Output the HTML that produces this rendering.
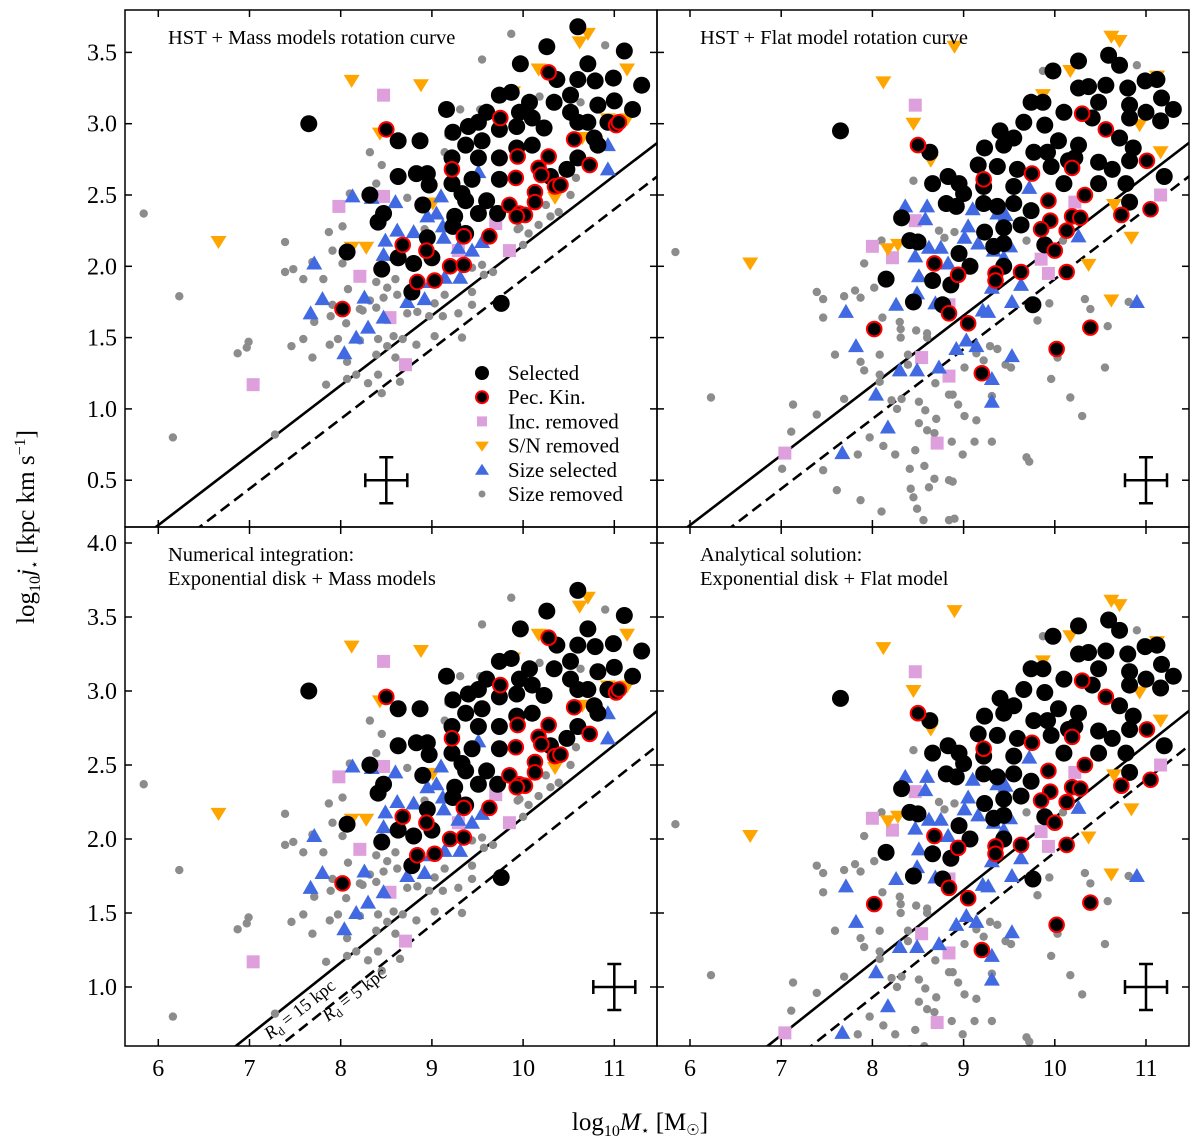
<!DOCTYPE html>
<html><head><meta charset="utf-8"><style>
html,body{margin:0;padding:0;background:#fff}
svg{display:block;font-family:"Liberation Serif",serif}
</style></head><body>
<svg id="chart" width="1200" height="1145" viewBox="0 0 1200 1145" xmlns="http://www.w3.org/2000/svg"></svg>
<script>
// ---- data (log10 M*, log10 j*) ----
const selectedA=[[7.65,3.0],[10.6,3.68],[10.26,3.54],[11.11,3.51],[9.97,3.42],[10.71,3.42],[10.6,3.31],[10.79,3.3],[10.99,3.32],[11.3,3.27],[10.37,3.31],[9.74,3.2],[9.87,3.22],[10.07,3.15],[10.34,3.15],[10.52,3.2],[10.82,3.13],[11,3.16],[11.2,3.1],[9.16,3.1],[9.6,3.08],[10.1,3.04],[10.52,3.08],[10.6,3.01],[10.71,3.01],[10.93,3.01],[9.4,2.98],[9.51,3.01],[9.23,2.94],[9.74,2.96],[9.93,2.98],[10.23,2.97],[8.63,2.88],[8.87,2.88],[9.37,2.85],[10.1,2.85],[10.82,2.85],[9.22,2.76],[9.51,2.76],[9.74,2.76],[10.6,2.76],[10.78,2.9],[8.63,2.63],[8.83,2.65],[8.95,2.65],[8.97,2.57],[9.22,2.58],[9.44,2.61],[9.74,2.61],[10.48,2.68],[10.3,2.63],[8.32,2.5],[9.37,2.46],[9.6,2.46],[9.33,2.51],[8.9,2.43],[8.47,2.37],[8.41,2.31],[9.25,2.35],[9.51,2.37],[9.72,2.37],[9.23,2.28],[9.37,2.23],[8.95,2.2],[8.07,2.1],[8.63,2.06],[8.8,2.02],[9,2.06],[8.45,1.98],[8.78,1.82],[9.76,1.74],[9.93,2.83],[9.55,2.88],[9.96,3.08]];
const pecA=[[8.5,2.96],[9.75,3.04],[10.28,3.36],[11.02,2.99],[11.05,3.01],[10.56,2.89],[10.73,2.71],[9.22,2.68],[9.94,2.77],[10.28,2.77],[10.17,2.69],[9.92,2.62],[10.2,2.64],[10.35,2.56],[10.41,2.57],[10.13,2.52],[9.85,2.43],[10.13,2.45],[9.96,2.37],[10.02,2.36],[9.93,2.35],[9.35,2.21],[9.63,2.21],[8.68,2.15],[8.94,2.11],[9.2,2.0],[9.35,2.01],[8.84,1.89],[9.03,1.9],[8.02,1.7]];
const incA=[[8.47,3.2],[8.47,2.49],[7.98,2.42],[8.21,1.93],[9.85,2.11],[8.54,1.64],[8.71,1.31],[7.04,1.17],[9.29,2.11],[9.7,2.3]];
const snA=[[8.12,3.3],[8.88,3.27],[10.62,3.57],[10.71,3.63],[11.14,3.38],[10.17,3.38],[8.43,2.93],[6.66,2.17],[8.12,2.13],[8.28,2.13],[9.01,2.44],[10.35,2.48],[10.93,3.03],[10.65,2.9],[11.14,3.03],[9.89,3.22]];
const sizeSelA=[[8.13,2.49],[8.6,2.45],[8.34,2.48],[9.05,2.37],[9.1,2.49],[8.95,2.35],[9.12,2.28],[8.8,2.24],[8.62,2.25],[8.49,2.18],[8.47,2.08],[9.13,2.2],[7.71,2.02],[9.29,2.13],[9.55,2.17],[9.44,2.11],[8.99,1.89],[9.14,1.92],[9.31,1.92],[7.8,1.77],[7.67,1.67],[8.26,1.78],[8.73,1.75],[8.92,1.77],[8.47,1.64],[8.3,1.57],[8.17,1.5],[8.04,1.39],[10.93,2.85],[10.93,2.68],[9.51,2.66]];
const sizeRemA=[[5.84,2.37],[6.23,1.79],[6.16,0.8],[9.87,3.63],[9.55,3.45],[10.9,3.55],[9.31,3.1],[9.53,3.1],[8.32,2.8],[8.45,2.71],[9.14,2.8],[9.18,2.92],[8.1,2.51],[8.73,2.48],[10.63,3.15],[10.18,3.19],[10.58,2.62],[10.52,2.5],[10.39,2.38],[10.3,2.35],[10.17,2.29],[10.06,2.23],[9.94,2.26],[7.87,2.24],[8.02,2.28],[7.39,2.17],[7.91,2.11],[8.02,2.02],[7.69,2.03],[7.39,1.96],[7.48,1.98],[7.59,1.91],[7.81,1.91],[8.08,1.84],[8.39,1.89],[8.51,1.85],[8.6,1.91],[8.62,1.8],[8.47,1.78],[8.32,1.76],[8.21,1.7],[7.91,1.73],[7.71,1.61],[7.89,1.65],[8.06,1.6],[8.24,1.69],[8.39,1.71],[8.73,1.67],[8.84,1.68],[8.97,1.65],[9.12,1.65],[9.29,1.67],[9.03,1.74],[9.14,1.8],[9.44,1.82],[9.57,1.94],[9.55,2.01],[9.67,1.96],[9.44,1.73],[9.33,1.5],[9.03,1.51],[8.83,1.45],[8.68,1.49],[8.58,1.51],[8.51,1.44],[8.41,1.49],[8.39,1.38],[8.6,1.36],[8.21,1.48],[7.97,1.49],[7.88,1.45],[7.59,1.49],[7.46,1.44],[7.69,1.36],[8.07,1.33],[6.99,1.47],[6.97,1.43],[6.87,1.39],[8.07,1.21],[8.17,1.24],[7.84,1.17],[8.3,1.18],[8.41,1.24],[8.65,1.19],[8.45,1.11],[7.28,0.82],[9.44,1.99],[10.1,2.44],[10.25,2.43],[9.96,2.27],[10,2.15],[8.92,2.26],[8.39,2.58]];

const selectedB=[[7.65,2.95],[9.98,3.37],[10.26,3.44],[10.59,3.48],[10.71,3.41],[10.26,3.25],[10.37,3.26],[10.56,3.27],[10.8,3.25],[10.99,3.3],[11.12,3.31],[11.17,3.18],[11.3,3.1],[11.16,3.02],[10.82,3.13],[9.74,3.15],[9.87,3.15],[10.1,3.08],[10.48,3.15],[10.41,3.04],[10.82,3.04],[11,3.08],[9.4,2.95],[9.66,3.01],[9.89,2.99],[9.55,2.9],[10.04,2.88],[10.26,2.85],[10.71,2.9],[10.86,2.83],[9.23,2.83],[9.44,2.85],[9.77,2.8],[10.22,2.76],[10.48,2.73],[10.63,2.68],[10.82,2.74],[9.16,2.71],[9.37,2.7],[9.59,2.68],[9.96,2.7],[11.2,2.63],[8.63,2.8],[8.66,2.58],[8.83,2.63],[8.95,2.58],[9,2.51],[9.22,2.56],[9.55,2.56],[10.1,2.58],[10.48,2.58],[10.78,2.58],[8.81,2.44],[8.92,2.42],[9.22,2.44],[9.37,2.42],[9.55,2.44],[9.74,2.39],[10.82,2.45],[8.32,2.34],[9.44,2.27],[9.63,2.29],[9.23,2.24],[9.44,2.16],[8.41,2.18],[8.5,2.17],[9.33,2.14],[9.89,2.15],[8.95,2.09],[9.07,2],[9.44,2],[8.15,1.91],[8.66,1.9],[8.86,1.87],[8.45,1.75],[8.77,1.73],[9.76,1.73],[10.15,2.74],[9.92,2.8]];
const pecB=[[8.5,2.85],[10.3,3.07],[10.56,2.96],[11.01,2.74],[9.75,2.65],[10.19,2.69],[9.22,2.61],[10.33,2.5],[9.93,2.46],[11.05,2.4],[10.73,2.36],[10.19,2.35],[10.28,2.34],[9.95,2.32],[9.85,2.26],[10.13,2.25],[10,2.11],[8.68,2.02],[8.94,1.94],[9.35,1.95],[9.35,1.9],[9.63,1.96],[10.13,1.96],[8.84,1.67],[9.05,1.6],[8.02,1.56],[10.39,1.57],[10.02,1.42],[9.2,1.25]];
const incB=[[8.47,3.13],[8.0,2.14],[8.22,2.06],[8.47,2.32],[9.85,2.05],[9.93,1.95],[10.22,2.45],[11.16,2.5],[8.54,1.36],[8.84,1.23],[8.71,0.76],[7.04,0.69],[8.84,1.73]];
const snB=[[8.9,3.54],[8.12,3.29],[8.45,3.0],[10.62,3.61],[10.71,3.58],[10.17,3.37],[11.12,3.33],[11.16,2.8],[10.93,2.99],[6.66,2.02],[8.17,2.12],[8.28,2.15],[10.65,2.43],[10.84,2.2],[10.37,2.01],[10.62,1.76],[8.64,2.74],[9.87,3.2]];
const sizeSelB=[[8.36,2.42],[8.6,2.42],[8.58,2.33],[9.1,2.4],[9.05,2.28],[9.37,2.37],[9.46,2.36],[9.72,2.55],[9.01,2.2],[9.16,2.16],[9.33,2.11],[9.51,2.14],[9.44,2.06],[8.47,2.07],[8.62,2.13],[8.75,2.13],[8.83,2.02],[8.51,1.93],[8.49,1.81],[9.31,1.85],[9.63,1.87],[8.26,1.73],[8.69,1.74],[9.21,1.69],[9.27,1.68],[9.53,1.75],[10.26,2.21],[10.9,1.75],[7.71,1.68],[7.82,1.44],[8.92,1.42],[9.03,1.48],[9.14,1.44],[9.53,1.37],[8.3,1.27],[8.49,1.27],[8.73,1.29],[8.04,1.1],[8.17,0.87],[7.67,0.69],[9.31,1.21],[9.31,1.05]];
const sizeRemB=[[5.84,2.1],[6.23,1.08],[9.87,3.37],[10.9,3.41],[8.45,2.6],[9.18,2.82],[8.1,2.18],[7.91,2.02],[7.39,1.82],[7.46,1.77],[7.46,1.64],[7.69,1.79],[7.81,1.83],[7.87,1.78],[8.02,1.85],[8.11,1.64],[8.3,1.61],[8.31,1.56],[8.31,1.5],[8.48,1.55],[8.6,1.53],[8.6,1.5],[8.73,2.25],[8.79,2.2],[8.9,2.24],[9.69,2.18],[10.09,2.18],[10.33,1.77],[10.39,1.7],[10.58,1.58],[10.81,1.75],[9.94,1.74],[9.81,1.62],[10.03,1.36],[9.96,1.21],[10.17,1.08],[10.3,0.95],[10.55,1.29],[9.72,0.63],[7.59,1.38],[7.87,1.33],[7.91,1.27],[8.08,1.38],[8.08,1.24],[8.08,1.19],[7.69,1.07],[7.39,0.96],[7.13,1.03],[7.11,0.84],[7.01,0.58],[7.46,0.57],[7.61,0.43],[7.87,0.36],[8.1,0.28],[7.84,0.68],[7.97,0.8],[8.12,0.74],[8.25,0.68],[8.21,1.06],[8.27,1.0],[8.32,1.07],[8.39,1.38],[8.39,1.31],[8.51,1.05],[8.58,0.99],[8.51,0.9],[8.6,0.85],[8.47,0.71],[8.7,0.93],[8.68,0.83],[8.87,0.77],[8.41,0.58],[8.57,0.6],[8.68,0.51],[8.62,0.45],[8.42,0.44],[8.45,0.38],[8.88,0.49],[8.84,0.5],[8.49,0.3],[8.56,0.22],[8.84,0.22],[8.9,0.23],[8.88,1.1],[8.94,1.03],[9.01,0.95],[9.14,0.92],[9.12,0.77],[9.31,0.77],[8.99,0.68],[9.31,1.09],[9.22,1.34],[9.46,1.31],[9.52,1.29],[9.37,1.42],[9.29,1.44],[9.14,1.39],[8.84,1.1],[8.69,1.18],[9.01,1.29],[9.69,0.66]];

const xTicks=[6,7,8,9,10,11];
const yTicksTop=[0.5,1.0,1.5,2.0,2.5,3.0,3.5];
const yTicksBottom=[1.0,1.5,2.0,2.5,3.0,3.5,4.0];
const lineIntercepts=[2.865,2.63]; // j at M=11.47 for Rd=15 kpc (solid) and Rd=5 kpc (dashed)
const lineSlope=0.49;

const NS="http://www.w3.org/2000/svg";
const svg=document.getElementById('chart');
function mk(tag,attrs,parent){const e=document.createElementNS(NS,tag);for(const k in attrs)e.setAttribute(k,attrs[k]);(parent||svg).appendChild(e);return e;}

const panels=[
 {id:'top-left',x0:125,x1:657,y0:10,y1:527,xo:158.3,yo:52.4,yref:3.5,ys:142.6,ticks:yTicksTop,title:['HST + Mass models rotation curve'],set:'A',legend:true,err:[8.5,0.5],ylabels:true,xlabels:false},
 {id:'top-right',x0:657,x1:1189,y0:10,y1:527,xo:690,yo:52.4,yref:3.5,ys:142.6,ticks:yTicksTop,title:['HST + Flat model rotation curve'],set:'B',err:[11,0.5],ylabels:false,xlabels:false},
 {id:'bottom-left',x0:125,x1:657,y0:527,y1:1046,xo:158.3,yo:543,yref:4.0,ys:148,ticks:yTicksBottom,title:['Numerical integration:','Exponential disk + Mass models'],set:'A',err:[11,1.0],ylabels:true,xlabels:true,rd:true},
 {id:'bottom-right',x0:657,x1:1189,y0:527,y1:1046,xo:690,yo:543,yref:4.0,ys:148,ticks:yTicksBottom,title:['Analytical solution:','Exponential disk + Flat model'],set:'B',err:[11,1.0],ylabels:false,xlabels:true}
];
const sets={A:{sel:selectedA,pec:pecA,inc:incA,sn:snA,ss:sizeSelA,sr:sizeRemA},B:{sel:selectedB,pec:pecB,inc:incB,sn:snB,ss:sizeSelB,sr:sizeRemB}};

function drawMarker(g,type,x,y){
 let e;
 if(type==='sr'){e=mk('circle',{cx:x,cy:y,r:4.2,fill:'#8c8c8c'},g);}
 else if(type==='inc'){e=mk('rect',{x:x-6.5,y:y-6.5,width:13,height:13,fill:'#dda0dd'},g);}
 else if(type==='sn'){e=mk('path',{d:`M${x-8},${y-6} L${x+8},${y-6} L${x},${y+7} Z`,fill:'#ffa500'},g);}
 else if(type==='ss'){e=mk('path',{d:`M${x-8},${y+6} L${x+8},${y+6} L${x},${y-8} Z`,fill:'#4169e1'},g);}
 else if(type==='sel'){e=mk('circle',{cx:x,cy:y,r:8.5,fill:'#000'},g);}
 else {e=mk('circle',{cx:x,cy:y,r:7.3,fill:'#000',stroke:'#ff0000','stroke-width':2},g);}
 return e;
}
const names={sr:'size-removed-point',inc:'inc-removed-point',sn:'sn-removed-point',ss:'size-selected-point',sel:'selected-point',pec:'pec-kin-point'};

panels.forEach((p,pi)=>{
 const X=m=>p.xo+(m-6)*91.2, Y=j=>p.yo+(p.yref-j)*p.ys;
 const cp=mk('clipPath',{id:'clip'+pi});
 mk('rect',{x:p.x0,y:p.y0,width:p.x1-p.x0,height:p.y1-p.y0},cp);
 const g=mk('g',{'clip-path':`url(#clip${pi})`});
 
 
 lineIntercepts.forEach((b,li)=>{
  const m1=5.5,m2=11.6;
  const l=mk('line',{x1:X(m1),y1:Y(b+lineSlope*(m1-11.47)),x2:X(m2),y2:Y(b+lineSlope*(m2-11.47)),stroke:'#000','stroke-width':2.6,'stroke-dasharray':li?'11,6':'none'},g);
  
  
 });
 const s=sets[p.set];
 ['sr','inc','sn','ss','sel','pec'].forEach(t=>{
  s[t].forEach(d=>{
   const e=drawMarker(g,t,X(d[0]),Y(d[1]));
   
   
  });
 });
 const ex=X(p.err[0]),ey=Y(p.err[1]);
 const eg=mk('g',{stroke:'#000','stroke-width':2.5,fill:'none'});
 
 
 mk('path',{d:`M${ex-21},${ey} H${ex+21} M${ex-21},${ey-7} V${ey+7} M${ex+21},${ey-7} V${ey+7} M${ex},${ey-23} V${ey+23} M${ex-7},${ey-23} H${ex+7} M${ex-7},${ey+23} H${ex+7}`},eg);
 const fr=mk('rect',{x:p.x0,y:p.y0,width:p.x1-p.x0,height:p.y1-p.y0,fill:'none',stroke:'#000','stroke-width':1.5});
 
 
 xTicks.forEach(v=>{
  const x=X(v);
  mk('line',{x1:x,y1:p.y0,x2:x,y2:p.y0+7,stroke:'#000','stroke-width':1.5});
  mk('line',{x1:x,y1:p.y1,x2:x,y2:p.y1-7,stroke:'#000','stroke-width':1.5});
  if(p.xlabels){const t=mk('text',{x:x,y:1076,'font-size':24,'text-anchor':'middle'});t.textContent=v;
   }
 });
 p.ticks.forEach(v=>{
  const y=Y(v);
  mk('line',{x1:p.x0,y1:y,x2:p.x0+7,y2:y,stroke:'#000','stroke-width':1.5});
  mk('line',{x1:p.x1,y1:y,x2:p.x1-7,y2:y,stroke:'#000','stroke-width':1.5});
  if(p.ylabels){const t=mk('text',{x:117,y:y+8,'font-size':24,'text-anchor':'end'});t.textContent=v.toFixed(1);
   }
 });
 p.title.forEach((tt,i)=>{
  const t=mk('text',{x:p.x0+43,y:p.y0+34+i*24,'font-size':20.5});t.textContent=tt;
  
 });
 if(p.rd){
  const t1=mk('text',{x:270,y:1040,'font-size':18,transform:'rotate(-38 270 1040)'});
  t1.innerHTML='<tspan font-style="italic">R</tspan><tspan font-size="12" dy="4">d</tspan><tspan dy="-4"> = 15 kpc</tspan>';
  
  const t2=mk('text',{x:328,y:1022,'font-size':18,transform:'rotate(-38 328 1022)'});
  t2.innerHTML='<tspan font-style="italic">R</tspan><tspan font-size="12" dy="4">d</tspan><tspan dy="-4"> = 5 kpc</tspan>';
  
 }
 if(p.legend){
  const lg=mk('g',{});
  
  
  const items=[['sel','Selected'],['pec','Pec. Kin.'],['inc','Inc. removed'],['sn','S/N removed'],['ss','Size selected'],['sr','Size removed']];
  items.forEach((it,i)=>{
   const y=373+i*24.2;
   const e=it[0]==='inc'?mk('rect',{x:477,y:y-5,width:10,height:10,fill:'#dda0dd'},lg):
     it[0]==='sn'?mk('path',{d:`M475,${y-4} L489,${y-4} L482,${y+6} Z`,fill:'#ffa500'},lg):
     it[0]==='ss'?mk('path',{d:`M475,${y+5} L489,${y+5} L482,${y-6} Z`,fill:'#4169e1'},lg):
     it[0]==='sr'?mk('circle',{cx:482,cy:y,r:3.5,fill:'#8c8c8c'},lg):
     it[0]==='sel'?mk('circle',{cx:482,cy:y,r:7,fill:'#000'},lg):
     mk('circle',{cx:482,cy:y,r:6,fill:'#000',stroke:'#f00','stroke-width':2},lg);
   
   
   const t=mk('text',{x:508,y:y+7,'font-size':21},lg);t.textContent=it[1];
   
   
  });
 }
});
const xt=mk('text',{x:640,y:1130,'font-size':25,'text-anchor':'middle'});
xt.innerHTML='log<tspan font-size="16" dy="6">10</tspan><tspan dy="-6" font-style="italic">M</tspan><tspan font-size="14" dy="5">⋆</tspan><tspan dy="-5"> [M</tspan><tspan font-size="15" dy="5">☉</tspan><tspan dy="-5">]</tspan>';


const yt=mk('text',{x:0,y:0,'font-size':25,'text-anchor':'middle',transform:'translate(34 527) rotate(-90)'});
yt.innerHTML='log<tspan font-size="16" dy="6">10</tspan><tspan dy="-6" font-style="italic">j</tspan><tspan font-size="14" dy="5">⋆</tspan><tspan dy="-5"> [kpc km s</tspan><tspan font-size="16" dy="-9">−1</tspan><tspan dy="9">]</tspan>';


</script>
</body></html>
